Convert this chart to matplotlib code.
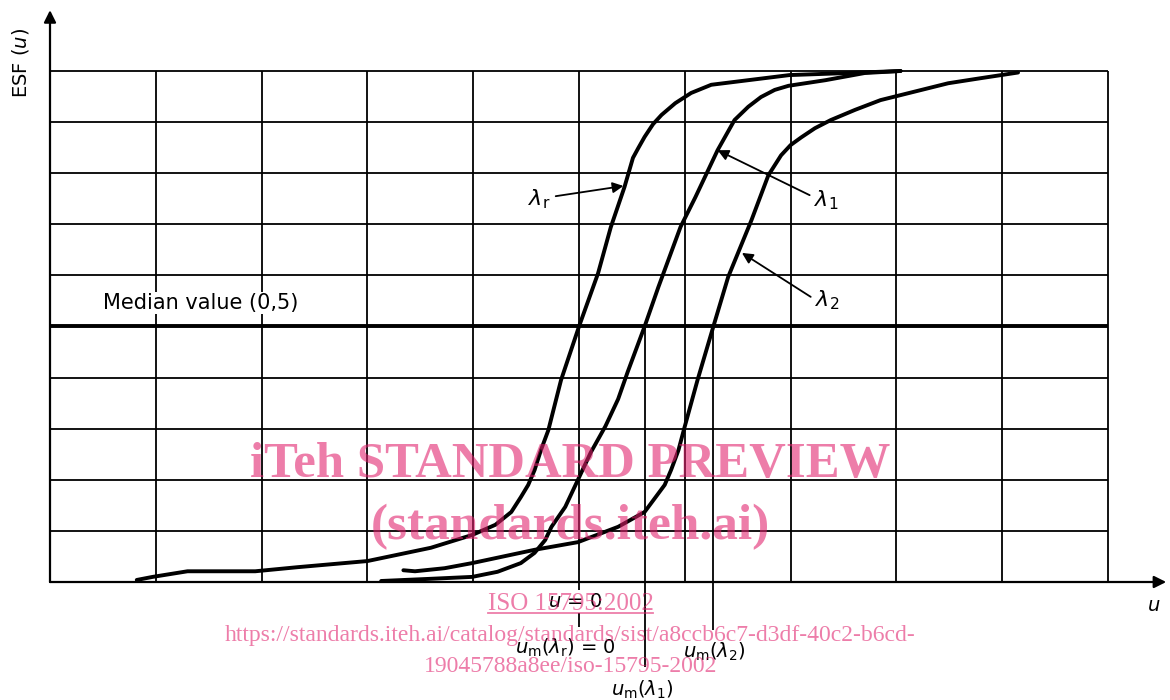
import matplotlib
matplotlib.use("Agg")
import matplotlib.pyplot as plt
from matplotlib.lines import Line2D

plt.rcParams['font.family'] = ['DejaVu Sans']
plt.rcParams['mathtext.fontset'] = 'dejavusans'

# grid: u in grid units (u = 0 at the reference median), ESF 0..1
grid_u = [-5, -4, -3, -2, -1, 0, 1, 2, 3, 4, 5]
grid_esf = [0.0, 0.1, 0.2, 0.3, 0.4, 0.5, 0.6, 0.7, 0.8, 0.9, 1.0]

# ESF curves
u_r = [-4.18, -4.03, -3.70, -3.44, -3.06, -2.66, -2.00, -1.40, -1.01, -0.79, -0.64, -0.55, -0.48,
       -0.42, -0.36, -0.29, -0.17, 0.00, 0.18, 0.30, 0.43, 0.51, 0.56, 0.62, 0.70, 0.78, 0.91,
       1.06, 1.25, 1.60, 1.99, 2.54, 3.04]
esf_r = [0.004, 0.010, 0.021, 0.021, 0.021, 0.029, 0.041, 0.067, 0.092, 0.112, 0.137, 0.166, 0.190,
         0.219, 0.258, 0.297, 0.395, 0.500, 0.604, 0.694, 0.773, 0.830, 0.849, 0.871, 0.896, 0.914,
         0.937, 0.957, 0.973, 0.982, 0.992, 0.996, 1.0]

u_1 = [-1.87, -1.43, -1.01, -0.77, -0.55, -0.42, -0.32, -0.26, -0.13, -0.01, 0.11, 0.25, 0.37,
       0.46, 0.62, 0.75, 0.96, 1.10, 1.31, 1.47, 1.60, 1.72, 1.85, 1.98, 2.33, 2.70, 3.04]
esf_1 = [0.002, 0.006, 0.010, 0.020, 0.037, 0.057, 0.082, 0.108, 0.147, 0.200, 0.253, 0.305, 0.358,
         0.411, 0.500, 0.577, 0.695, 0.753, 0.845, 0.904, 0.930, 0.949, 0.963, 0.971, 0.982, 0.996, 1.0]

u_2 = [-1.66, -1.55, -1.27, -1.01, -0.42, -0.01, 0.37, 0.62, 0.81, 0.87, 0.94, 0.99, 1.12, 1.27,
       1.41, 1.63, 1.79, 1.91, 2.00, 2.10, 2.23, 2.38, 2.61, 2.85, 3.49, 3.80, 4.15]
esf_2 = [0.023, 0.021, 0.027, 0.037, 0.063, 0.078, 0.108, 0.137, 0.190, 0.219, 0.258, 0.297, 0.395,
         0.500, 0.597, 0.708, 0.796, 0.835, 0.855, 0.870, 0.888, 0.904, 0.924, 0.943, 0.976, 0.986, 0.997]

um_1 = 0.62
um_2 = 1.27

fig = plt.figure(figsize=(11.7, 7.0), dpi=100)
ax = fig.add_axes([0, 0, 1, 1])
ax.set_xlim(-5.4726, 5.586)
ax.set_ylim(-0.2309, 1.1389)
ax.axis('off')

# grid
ax.vlines(grid_u[1:], 0, 1.0, color='k', lw=1.3)
ax.hlines(grid_esf[1:], grid_u[0], grid_u[-1], color='k', lw=1.3)
ax.hlines(0.5, grid_u[0], grid_u[-1], color='k', lw=2.8)

# axes with arrows
ax.annotate('', xy=(5.55, 0), xytext=(grid_u[0], 0),
            arrowprops=dict(arrowstyle='-|>', lw=1.6, color='k', mutation_scale=18,
                            shrinkA=0, shrinkB=0))
ax.annotate('', xy=(grid_u[0], 1.119), xytext=(grid_u[0], 0),
            arrowprops=dict(arrowstyle='-|>', lw=1.6, color='k', mutation_scale=18,
                            shrinkA=0, shrinkB=0))

# median position markers
ax.vlines([um_1], -0.166, 0.5, color='k', lw=1.3)
ax.vlines([um_2], -0.094, 0.5, color='k', lw=1.3)
ax.vlines([0, 0], [-0.016, -0.088], [0, -0.060], color='k', lw=1.3)

# curves
for u, e in [(u_r, esf_r), (u_1, esf_1), (u_2, esf_2)]:
    ax.plot(u, e, color='k', lw=2.8, solid_joinstyle='round', solid_capstyle='round')

fs = 14
ax.text(-5.28, 1.016, 'ESF ($u$)', rotation=90, ha='center', va='center', fontsize=fs)
ax.text(-4.50, 0.546, 'Median value (0,5)', ha='left', va='center', fontsize=15,
        bbox=dict(facecolor='white', edgecolor='none', pad=1))
ax.text(5.43, -0.045, '$u$', ha='center', va='center', fontsize=fs)
ax.text(-0.04, -0.039, '$u$ = 0', ha='center', va='center', fontsize=fs)
ax.text(-0.13, -0.129, r'$u_\mathrm{m}(\lambda_\mathrm{r})$ = 0', ha='center', va='center', fontsize=fs)
ax.text(um_2 + 0.01, -0.137, r'$u_\mathrm{m}(\lambda_2)$', ha='center', va='center', fontsize=fs)
ax.text(um_1 - 0.02, -0.211, r'$u_\mathrm{m}(\lambda_1)$', ha='center', va='center', fontsize=fs)

arrow = dict(arrowstyle='-|>', lw=1.3, color='k', mutation_scale=16, shrinkA=0, shrinkB=0)
ax.text(-0.38, 0.750, r'$\lambda_\mathrm{r}$', ha='center', va='center', fontsize=16)
ax.annotate('', xy=(0.42, 0.775), xytext=(-0.22, 0.755), arrowprops=arrow)
ax.text(2.34, 0.748, r'$\lambda_1$', ha='center', va='center', fontsize=16)
ax.annotate('', xy=(1.31, 0.845), xytext=(2.18, 0.757), arrowprops=arrow)
ax.text(2.35, 0.552, r'$\lambda_2$', ha='center', va='center', fontsize=16)
ax.annotate('', xy=(1.54, 0.644), xytext=(2.19, 0.558), arrowprops=arrow)

# watermark
wm = dict(color='#e0206c', alpha=0.58, ha='center', va='center',
          family=['Liberation Serif', 'DejaVu Serif'], zorder=10)
ax.text(-0.08, 0.229, 'iTeh STANDARD PREVIEW', fontsize=36.5, fontweight='bold', **wm)
ax.text(-0.08, 0.108, '(standards.iteh.ai)', fontsize=37, fontweight='bold', **wm)
iso = ax.text(-0.08, -0.043, 'ISO 15795:2002', fontsize=18, **wm)
ax.text(-0.08, -0.104, 'https://standards.iteh.ai/catalog/standards/sist/a8ccb6c7-d3df-40c2-b6cd-',
        fontsize=17, **wm)
ax.text(-0.08, -0.166, '19045788a8ee/iso-15795-2002', fontsize=17, **wm)

fig.canvas.draw()
bb = iso.get_window_extent()
W, H = fig.bbox.width, fig.bbox.height
fig.add_artist(Line2D([bb.x0 / W, bb.x1 / W], [(bb.y0 + 2) / H] * 2, color='#e0206c',
                      alpha=0.58, lw=1.3, transform=fig.transFigure))

fig.savefig('out.png', dpi=100)
